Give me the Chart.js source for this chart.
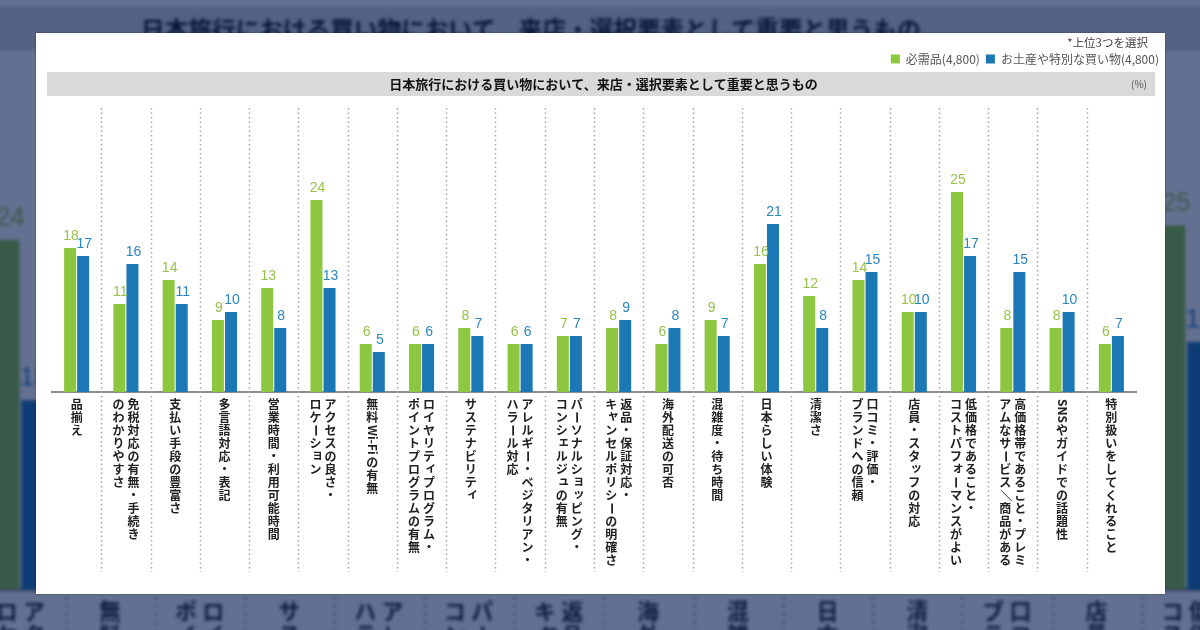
<!DOCTYPE html>
<html lang="ja">
<head>
<meta charset="utf-8">
<title>日本旅行における買い物において、来店・選択要素として重要と思うもの</title>
<script src="https://cdn.jsdelivr.net/npm/chart.js@4.4.1/dist/chart.umd.min.js"></script>
<style>
  html, body { margin: 0; padding: 0; }
  body { width: 1200px; height: 630px; overflow: hidden; position: relative; background: #ffffff; }
  #bg { position: absolute; left: -502px; top: -64px; width: 1129px; height: 561px; background: #fff;
        transform: scale(1.82); transform-origin: 0 0; filter: blur(1px); }
  #tint { position: absolute; left: 0; top: 0; width: 1200px; height: 630px; background: rgba(5, 24, 77, 0.62); }
  #card { position: absolute; left: 36px; top: 33px; width: 1129px; height: 561px; background: #fff;
          box-shadow: 0 0 2px rgba(0, 0, 0, 0.35); }
</style>
</head>
<body>
<div id="bg"><canvas id="bgChart" width="1129" height="561"></canvas></div>
<div id="tint"></div>
<div id="card"><canvas id="mainChart" width="1129" height="561"></canvas></div>
<script>
// 選択肢（縦書き、1行目が右の列）
const categories = [
    ['品揃え'],
    ['免税対応の有無・手続き', 'のわかりやすさ'],
    ['支払い手段の豊富さ'],
    ['多言語対応・表記'],
    ['営業時間・利用可能時間'],
    ['アクセスの良さ・', 'ロケーション'],
    ['無料Wi-Fiの有無'],
    ['ロイヤリティプログラム・', 'ポイントプログラムの有無'],
    ['サステナビリティ'],
    ['アレルギー・ベジタリアン・', 'ハラール対応'],
    ['パーソナルショッピング・', 'コンシェルジュの有無'],
    ['返品・保証対応・', 'キャンセルポリシーの明確さ'],
    ['海外配送の可否'],
    ['混雑度・待ち時間'],
    ['日本らしい体験'],
    ['清潔さ'],
    ['口コミ・評価・', 'ブランドへの信頼'],
    ['店員・スタッフの対応'],
    ['低価格であること・', 'コストパフォーマンスがよい'],
    ['高価格帯であること・プレミ', 'アムなサービス／商品がある'],
    ['SNSやガイドでの話題性'],
    ['特別扱いをしてくれること'],
];
const necessities = [18, 11, 14, 9, 13, 24, 6, 6, 8, 6, 7, 8, 6, 9, 16, 12, 14, 10, 25, 8, 8, 6];
const souvenirs = [17, 16, 11, 10, 8, 13, 5, 6, 7, 6, 7, 9, 8, 7, 21, 8, 15, 10, 17, 15, 10, 7];
const seriesNames = ['必需品(4,800)', 'お土産や特別な買い物(4,800)'];
const chartTitle = '日本旅行における買い物において、来店・選択要素として重要と思うもの';
const noteText = '*上位3つを選択';
const unitText = '(%)';

const barColors = ['#8dc63f', '#1b78b5'];
const valueColors = ['#96c24b', '#2a86bf'];
const JP = '"Noto Sans CJK JP", "Noto Sans", sans-serif';
const smallKana = 'ャュョッィァェォ';

// 英数字の連続は横倒し、長音と斜線は回転
function splitVertical(str) {
    const parts = [];
    let run = '';
    for (const ch of str) {
        if (/[ -~]/.test(ch)) { run += ch; continue; }
        if (run) { parts.push({text: run, side: true}); run = ''; }
        parts.push({text: ch, side: ch === 'ー' || ch === '／'});
    }
    if (run) parts.push({text: run, side: true});
    return parts;
}

const chartDecor = {
    id: 'chartDecor',
    beforeDraw(chart) {
        const ctx = chart.ctx;
        const tb = chart.titleBlock;
        ctx.save();
        ctx.fillStyle = '#d9d9d9';
        ctx.fillRect(11, tb.top - 3, chart.width - 21, 24);
        ctx.fillStyle = '#555';
        ctx.font = '10px ' + JP;
        ctx.textAlign = 'right';
        ctx.textBaseline = 'middle';
        ctx.fillText(unitText, chart.width - 18, tb.top + 9);
        ctx.fillStyle = '#444';
        ctx.font = '11.5px ' + JP;
        ctx.fillText(noteText, chart.width - 17, 10);
        ctx.restore();
    },
    beforeDatasetsDraw(chart) {
        const {ctx, chartArea, scales: {x}} = chart;
        ctx.save();
        ctx.strokeStyle = '#a3a3a3';
        ctx.lineWidth = 1.5;
        ctx.setLineDash([1.5, 3]);
        for (let i = 0; i < categories.length - 1; i++) {
            const px = Math.round((x.getPixelForValue(i) + x.getPixelForValue(i + 1)) / 2) + 0.5;
            ctx.beginPath();
            ctx.moveTo(px, chartArea.top - 4);
            ctx.lineTo(px, chartArea.bottom + 180);
            ctx.stroke();
        }
        ctx.restore();
    },
    afterDatasetsDraw(chart) {
        const ctx = chart.ctx;
        ctx.save();
        ctx.font = '14px "Liberation Sans", Arial, sans-serif';
        ctx.textAlign = 'center';
        ctx.textBaseline = 'alphabetic';
        chart.data.datasets.forEach((ds, d) => {
            ctx.fillStyle = valueColors[d];
            chart.getDatasetMeta(d).data.forEach((bar, i) => {
                ctx.fillText(ds.data[i], bar.x + 1, bar.y - 8);
            });
        });
        ctx.restore();
    },
    afterDraw(chart) {
        const {ctx, chartArea, scales: {x}} = chart;
        ctx.save();
        ctx.fillStyle = '#222';
        ctx.font = 'bold 12px ' + JP;
        ctx.textAlign = 'center';
        ctx.textBaseline = 'middle';
        categories.forEach((lines, i) => {
            const cx = x.getPixelForValue(i);
            lines.forEach((line, j) => {
                const lx = cx + ((lines.length - 1) / 2 - j) * 15;
                let y = chartArea.bottom + 6;
                splitVertical(line).forEach(part => {
                    if (part.side) {
                        const w = ctx.measureText(part.text).width;
                        const h = part.text.length > 1 ? w + 2 : 13;
                        ctx.save();
                        ctx.translate(lx, y + h / 2);
                        ctx.rotate(Math.PI / 2);
                        ctx.fillText(part.text, 0, 0);
                        ctx.restore();
                        y += h;
                    } else {
                        const sm = smallKana.includes(part.text);
                        ctx.fillText(part.text, lx + (sm ? 2 : 0), y + 6.5 - (sm ? 2 : 0));
                        y += 13;
                    }
                });
            });
        });
        ctx.restore();
    },
};

function makeConfig() {
    return {
        type: 'bar',
        data: {
            labels: categories,
            datasets: [
                {label: seriesNames[0], data: necessities, backgroundColor: barColors[0]},
                {label: seriesNames[1], data: souvenirs, backgroundColor: barColors[1]},
            ],
        },
        options: {
            responsive: false,
            animation: false,
            devicePixelRatio: 1,
            categoryPercentage: 0.53,
            barPercentage: 0.92,
            layout: {padding: {top: 14, left: 6, right: 0, bottom: 8}},
            plugins: {
                tooltip: {enabled: false},
                legend: {
                    position: 'top',
                    align: 'end',
                    weight: 3000,
                    labels: {
                        boxWidth: 9,
                        boxHeight: 9,
                        padding: 6,
                        color: '#555',
                        font: {size: 12, family: JP},
                    },
                },
                title: {
                    display: true,
                    text: chartTitle,
                    color: '#111',
                    font: {size: 13, weight: 'bold', family: JP},
                    padding: {top: 1.2, bottom: 20.2},
                },
            },
            scales: {
                x: {
                    offset: true,
                    grid: {display: false},
                    ticks: {display: false},
                    border: {display: true, color: '#8c8c8c', width: 2},
                    afterFit(scale) { scale.height = 194; },
                },
                y: {
                    min: 0,
                    max: 35,
                    grid: {display: false},
                    ticks: {display: false},
                    border: {display: false},
                    afterFit(scale) { scale.width = 10; },
                },
                pad: {
                    type: 'linear',
                    position: 'right',
                    grid: {display: false},
                    ticks: {display: false},
                    border: {display: false},
                    afterFit(scale) { scale.width = 29; },
                },
            },
        },
        plugins: [chartDecor],
    };
}

new Chart(document.getElementById('bgChart'), makeConfig());
new Chart(document.getElementById('mainChart'), makeConfig());
</script>
</body>
</html>
